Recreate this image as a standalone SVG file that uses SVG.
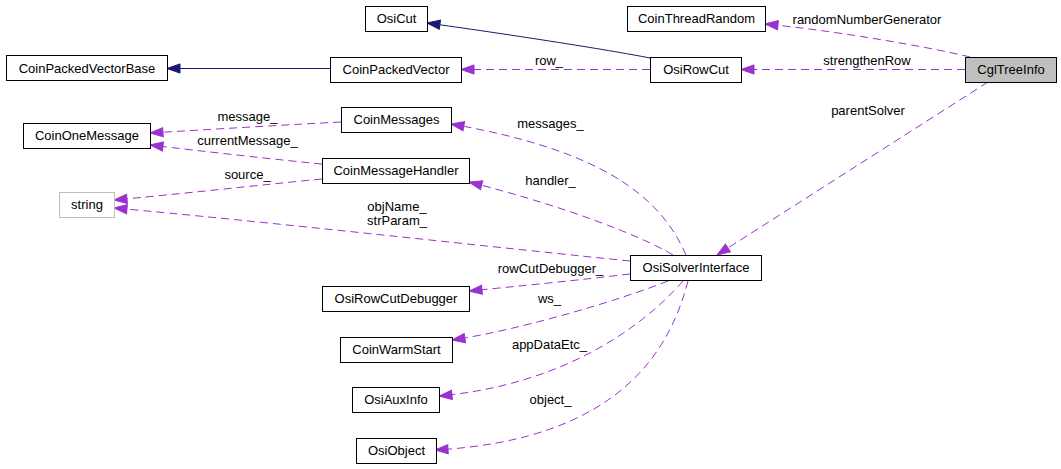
<svg xmlns="http://www.w3.org/2000/svg" width="1061" height="469" viewBox="0 0 1061 469">
<style>
.n rect{fill:#fff;stroke:#000;stroke-width:1}
.n text{font-family:"Liberation Sans",Arial,sans-serif;font-size:13px;text-anchor:middle;fill:#000}
.e path{fill:none;stroke:#9a32cd;stroke-width:1;stroke-dasharray:8,5}
.e path.inh{stroke:#191970;stroke-dasharray:none}
.e text{font-family:"Liberation Sans",Arial,sans-serif;font-size:13px;text-anchor:middle;fill:#000}
</style>
<defs>
<marker id="ap" markerUnits="userSpaceOnUse" markerWidth="14" markerHeight="11" refX="13" refY="5" orient="auto" viewBox="0 0 14 11" overflow="visible">
<path d="M0,0.4 L13,5 L0,9.6 z" fill="#9a32cd" stroke="#9a32cd" stroke-width="1"/>
</marker>
<marker id="an" markerUnits="userSpaceOnUse" markerWidth="14" markerHeight="11" refX="13" refY="5" orient="auto" viewBox="0 0 14 11" overflow="visible">
<path d="M0,0.4 L13,5 L0,9.6 z" fill="#191970" stroke="#191970" stroke-width="1"/>
</marker>
</defs>
<rect width="1061" height="469" fill="#fff"/>
<g id="connectors" class="e">
<path class="inh" d="M650,58 C610,50 500,33 427,23" marker-end="url(#an)"/>
<path class="inh" d="M330,68.5 L167,68.5" marker-end="url(#an)"/>
<path d="M650,69.5 L461,69.5" marker-end="url(#ap)"/>
<text x="549" y="65">row_</text>
<path d="M970,57 C930,47 830,30 765,24" marker-end="url(#ap)"/>
<text x="867" y="24">randomNumberGenerator</text>
<path d="M965,69.5 L741,69.5" marker-end="url(#ap)"/>
<text x="867" y="65">strengthenRow</text>
<path d="M988,82 L717,255" marker-end="url(#ap)"/>
<text x="868" y="115">parentSolver</text>
<path d="M341,122 C300,124 200,130 150,133" marker-end="url(#ap)"/>
<text x="247.5" y="121">message_</text>
<path d="M322,164 C280,160 200,151 150,145" marker-end="url(#ap)"/>
<text x="247.5" y="145">currentMessage_</text>
<path d="M322,179 C270,184 170,195 114,200" marker-end="url(#ap)"/>
<text x="247.5" y="179">source_</text>
<path d="M630,261 C520,250 250,220 114,208" marker-end="url(#ap)"/>
<text x="397" y="211">objName_</text>
<text x="397" y="225">strParam_</text>
<path d="M686,255 C660,195 600,150 451,124" marker-end="url(#ap)"/>
<text x="550.5" y="127.5">messages_</text>
<path d="M673,255 C640,235 560,205 469,182" marker-end="url(#ap)"/>
<text x="550.5" y="185">handler_</text>
<path d="M630,274 C580,280 520,286 469,291" marker-end="url(#ap)"/>
<text x="550.5" y="273">rowCutDebugger_</text>
<path d="M668,281 C620,300 520,330 452,340" marker-end="url(#ap)"/>
<text x="549.5" y="303">ws_</text>
<path d="M683,281 C640,330 560,385 439,396" marker-end="url(#ap)"/>
<text x="549.5" y="349">appDataEtc_</text>
<path d="M688,281 C670,350 620,440 435,450" marker-end="url(#ap)"/>
<text x="550.5" y="404">object_</text>
</g>
<g id="CglTreeInfo" class="n"><rect x="965.5" y="57.5" width="91" height="25" style="fill:#bfbfbf"/><text x="1011" y="74">CglTreeInfo</text></g>
<g id="CoinThreadRandom" class="n"><rect x="627.5" y="6.5" width="138" height="25"/><text x="696.5" y="23">CoinThreadRandom</text></g>
<g id="OsiRowCut" class="n"><rect x="650.5" y="57.5" width="91" height="25"/><text x="696" y="74">OsiRowCut</text></g>
<g id="OsiCut" class="n"><rect x="365.5" y="6.5" width="62" height="25"/><text x="396.5" y="23">OsiCut</text></g>
<g id="CoinPackedVector" class="n"><rect x="330.5" y="57.5" width="131" height="25"/><text x="396" y="74">CoinPackedVector</text></g>
<g id="CoinPackedVectorBase" class="n"><rect x="6.5" y="55.5" width="161" height="25"/><text x="87" y="72.5">CoinPackedVectorBase</text></g>
<g id="OsiSolverInterface" class="n"><rect x="630.5" y="255.5" width="131" height="25"/><text x="696" y="272">OsiSolverInterface</text></g>
<g id="CoinMessages" class="n"><rect x="341.5" y="107.5" width="110" height="25"/><text x="396.5" y="124">CoinMessages</text></g>
<g id="CoinOneMessage" class="n"><rect x="23.5" y="123.5" width="127" height="25"/><text x="87" y="140">CoinOneMessage</text></g>
<g id="CoinMessageHandler" class="n"><rect x="322.5" y="158.5" width="147" height="25"/><text x="396" y="175">CoinMessageHandler</text></g>
<g id="string" class="n"><rect x="59.5" y="192.5" width="55" height="25" style="stroke:#bfbfbf"/><text x="87" y="209">string</text></g>
<g id="OsiRowCutDebugger" class="n"><rect x="322.5" y="286.5" width="147" height="25"/><text x="396" y="303">OsiRowCutDebugger</text></g>
<g id="CoinWarmStart" class="n"><rect x="340.5" y="337.5" width="112" height="25"/><text x="396.5" y="354">CoinWarmStart</text></g>
<g id="OsiAuxInfo" class="n"><rect x="352.5" y="387.5" width="87" height="25"/><text x="396" y="404">OsiAuxInfo</text></g>
<g id="OsiObject" class="n"><rect x="356.5" y="438.5" width="80" height="25"/><text x="396.5" y="455">OsiObject</text></g>
</svg>
